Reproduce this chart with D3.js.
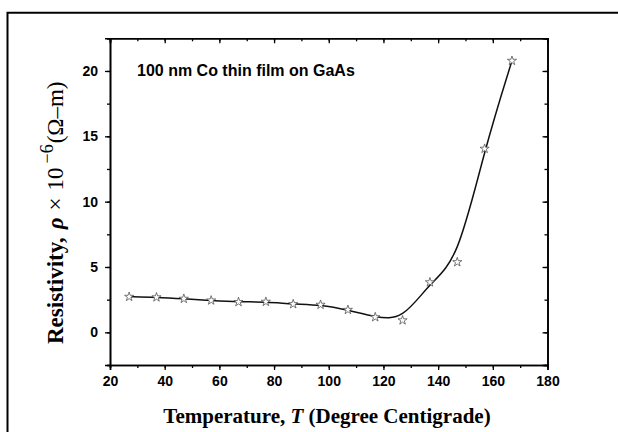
<!DOCTYPE html>
<html>
<head>
<meta charset="utf-8">
<script src="https://cdn.jsdelivr.net/npm/d3@7"></script>
<style>
  html, body { margin: 0; padding: 0; background: #fff; }
  svg { display: block; }
</style>
</head>
<body>
<svg id="chart" width="618" height="432"></svg>
<script>
// Resistivity of a 100 nm Co film on GaAs versus temperature
const temperatures = [27, 37, 47, 57, 67, 77, 87, 97, 107, 117, 127, 137, 147, 157, 167];
const resistivity  = [2.72, 2.68, 2.57, 2.44, 2.32, 2.34, 2.16, 2.11, 1.72, 1.16, 0.92, 3.83, 5.37, 14.05, 20.78];
const xTicks = [20, 40, 60, 80, 100, 120, 140, 160, 180];
const yTicks = [0, 5, 10, 15, 20];

const svg = d3.select("#chart");
const plotL = 110, plotR = 547.5, plotT = 38.3, plotB = 365;

const x = d3.scaleLinear().domain([20, 180]).range([plotL, plotR]);
const y = d3.scaleLinear().domain([-2.5, 22.5]).range([plotB, plotT]);

// figure frame (top and left edges)
svg.append("path")
  .attr("d", `M7.5,432 L7.5,12.7 L618,12.7`)
  .attr("fill", "none").attr("stroke", "#000").attr("stroke-width", 2);

const minorX = d3.range(20, 181, 10);
const minorY = d3.range(-2.5, 22.6, 2.5);

function styleAxis(g) {
  g.select(".domain").attr("stroke", "#000").attr("stroke-width", 1.6);
  g.selectAll(".tick line").attr("stroke", "#000").attr("stroke-width", 1.3);
  g.selectAll(".tick text")
    .attr("font-family", "Liberation Sans, Arial, sans-serif")
    .attr("font-weight", "bold").attr("font-size", 14).attr("fill", "#000");
}

// minor ticks on all four sides
svg.append("g").attr("transform", `translate(0,${plotB})`)
  .call(d3.axisBottom(x).tickValues(minorX).tickSize(3).tickFormat(""))
  .call(styleAxis);
svg.append("g").attr("transform", `translate(0,${plotT})`)
  .call(d3.axisBottom(x).tickValues(minorX).tickSize(3).tickFormat(""))
  .call(styleAxis);
svg.append("g").attr("transform", `translate(${plotL},0)`)
  .call(d3.axisLeft(y).tickValues(minorY).tickSize(3).tickFormat(""))
  .call(styleAxis);
svg.append("g").attr("transform", `translate(${plotR},0)`)
  .call(d3.axisLeft(y).tickValues(minorY).tickSize(3).tickFormat(""))
  .call(styleAxis);

// major ticks with labels
svg.append("g").attr("transform", `translate(0,${plotB})`)
  .call(d3.axisBottom(x).tickValues(xTicks).tickSize(5).tickPadding(6).tickFormat(d3.format("d")))
  .call(styleAxis);
svg.append("g").attr("transform", `translate(${plotL},0)`)
  .call(d3.axisLeft(y).tickValues(yTicks).tickSize(5).tickPadding(7).tickFormat(d3.format("d")))
  .call(styleAxis);
svg.append("g").attr("transform", `translate(0,${plotT})`)
  .call(d3.axisBottom(x).tickValues(xTicks).tickSize(5).tickFormat(""))
  .call(styleAxis);
svg.append("g").attr("transform", `translate(${plotR},0)`)
  .call(d3.axisLeft(y).tickValues(yTicks).tickSize(5).tickFormat(""))
  .call(styleAxis);

const pts = temperatures.map((t, i) => [t, resistivity[i]]);

// smoothed trend line
svg.append("path")
  .datum(pts)
  .attr("fill", "none").attr("stroke", "#111").attr("stroke-width", 1.5)
  .attr("d", d3.line().x(d => x(d[0])).y(d => y(d[1])).curve(d3.curveBasis));

// open star markers
svg.append("g").selectAll("path")
  .data(pts).join("path")
  .attr("transform", d => `translate(${x(d[0])},${y(d[1])})`)
  .attr("d", d3.symbol().type(d3.symbolStar).size(26))
  .attr("fill", "#fff").attr("stroke", "#555").attr("stroke-width", 0.8);

// annotation
svg.append("text")
  .attr("x", 137).attr("y", 76)
  .attr("font-family", "Liberation Sans, Arial, sans-serif")
  .attr("font-weight", "bold").attr("font-size", 16)
  .text("100 nm Co thin film on GaAs");

// x-axis title
const xt = svg.append("text")
  .attr("x", 327).attr("y", 422.5)
  .attr("text-anchor", "middle")
  .attr("font-family", "Liberation Serif, Times New Roman, serif")
  .attr("font-weight", "bold").attr("font-size", 21);
xt.append("tspan").text("Temperature,  ");
xt.append("tspan").attr("font-style", "italic").text("T");
xt.append("tspan").text(" (Degree Centigrade)");

// y-axis title
const yt = svg.append("text")
  .attr("transform", "translate(63,344) rotate(-90)")
  .attr("text-anchor", "start")
  .attr("font-family", "Liberation Serif, Times New Roman, serif")
  .attr("font-weight", "bold").attr("font-size", 23);
yt.append("tspan").text("Resistivity,");
yt.append("tspan").attr("dx", 8).attr("font-style", "italic").text("ρ");
yt.append("tspan").attr("dx", 7).attr("font-weight", "normal").text("×");
yt.append("tspan").attr("dx", 7).attr("font-weight", "normal").text("10");
yt.append("tspan").attr("dx", 4).attr("font-weight", "normal").attr("font-size", 18).attr("dy", -10).text("−6");
yt.append("tspan").attr("dx", 1).attr("font-weight", "normal").attr("dy", 10).text("(Ω–m)");
</script>
</body>
</html>
